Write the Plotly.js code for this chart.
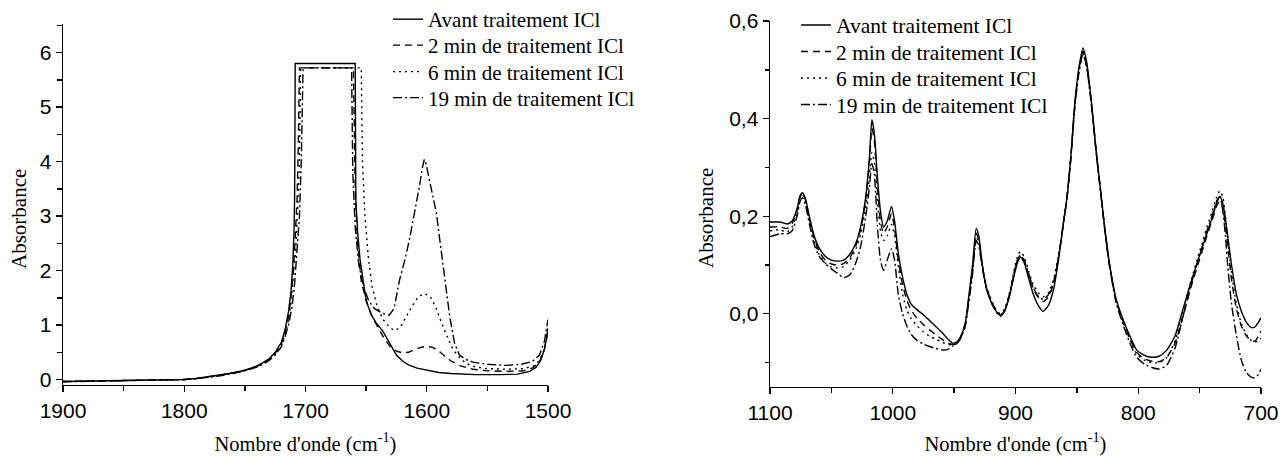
<!DOCTYPE html>
<html>
<head>
<meta charset="utf-8">
<script src="https://cdn.plot.ly/plotly-3.0.1.min.js"></script>
<style>html,body{margin:0;padding:0;background:#fff;}#chart{width:1282px;height:456px;}</style>
</head>
<body>
<div id="chart"></div>
<script>
// ---------- Data ----------
var seriesNames = ["Avant traitement ICl", "2 min de traitement ICl", "6 min de traitement ICl", "19 min de traitement ICl"];
var xTitleText = "Nombre d'onde (cm<sup>-1</sup>)";
var yTitleText = "Absorbance";

// Left panel (1900-1500 cm-1)
var leftAvantWn = [1900,1870,1850,1820,1800,1790,1780,1770,1760,1750,1740,1735,1730,1725,1720,1717,1714,1712,1710.5,1709.5,1709,1708.7,1708.5,1659,1658.8,1658.5,1657,1655,1652,1650,1646,1642,1636,1630,1625,1620,1615,1608,1600,1590,1580,1560,1540,1525,1515,1510,1506,1503,1501,1500];
var leftAvantAbs = [-0.035,-0.025,-0.015,-0.005,0.0,0.02,0.05,0.08,0.12,0.17,0.25,0.31,0.38,0.50,0.68,0.90,1.25,1.6,2.1,2.7,3.3,4.5,5.8,5.8,4.5,3.3,2.7,2.2,1.75,1.45,1.2,1.05,0.88,0.65,0.45,0.34,0.27,0.21,0.17,0.13,0.11,0.09,0.09,0.10,0.15,0.22,0.35,0.55,0.78,0.95];

var left2minWn = [1900,1870,1850,1820,1800,1790,1780,1770,1760,1750,1740,1735,1730,1725,1720,1717,1714,1712,1710,1708.5,1707,1706,1705.5,1705,1660.5,1660,1659,1657,1654,1650,1645,1640,1635,1630,1625,1620,1615,1610,1605,1600,1595,1590,1585,1580,1572,1562,1550,1535,1520,1512,1507,1503,1500];
var left2minAbs = [-0.035,-0.025,-0.015,-0.005,0.0,0.02,0.05,0.08,0.12,0.17,0.24,0.30,0.37,0.48,0.65,0.85,1.15,1.5,2.0,2.6,3.3,4.2,5.0,5.72,5.72,4.5,3.5,2.5,1.8,1.45,1.15,0.95,0.75,0.6,0.52,0.49,0.5,0.55,0.59,0.61,0.59,0.52,0.43,0.34,0.25,0.19,0.16,0.15,0.16,0.22,0.33,0.55,0.9];

var left6minWn = [1900,1870,1850,1820,1800,1790,1780,1770,1760,1750,1740,1735,1730,1725,1720,1717,1714,1712,1710,1708,1706.5,1705,1704.5,1704,1654,1653,1651,1648,1645,1641,1636,1631,1627,1622,1617,1612,1607,1602,1597,1592,1588,1584,1580,1575,1568,1560,1550,1535,1520,1512,1507,1503,1500];
var left6minAbs = [-0.035,-0.025,-0.015,-0.005,0.0,0.02,0.05,0.08,0.12,0.17,0.24,0.30,0.37,0.47,0.63,0.82,1.1,1.4,1.85,2.4,3.1,4.0,4.9,5.72,5.72,4.0,3.0,2.2,1.7,1.35,1.1,0.97,0.9,0.95,1.15,1.35,1.52,1.58,1.52,1.3,1.05,0.82,0.62,0.45,0.3,0.23,0.2,0.19,0.2,0.25,0.35,0.55,0.85];

var left19minWn = [1900,1870,1850,1820,1800,1790,1780,1770,1760,1750,1740,1735,1730,1725,1720,1717,1714,1711,1709,1707,1705,1703.5,1702.5,1702,1662,1661,1659,1656,1652,1648,1643,1637,1631,1627,1622.4,1618,1614,1610,1606,1603.5,1602,1600.5,1597,1592,1589.4,1586.7,1584,1581,1577,1573,1568,1562,1550,1535,1522,1513,1507,1503,1500];
var left19minAbs = [-0.04,-0.03,-0.02,-0.008,-0.002,0.015,0.04,0.07,0.11,0.16,0.23,0.28,0.35,0.45,0.6,0.78,1.0,1.35,1.75,2.3,3.0,4.0,5.0,5.72,5.72,3.8,2.8,2.1,1.7,1.45,1.3,1.22,1.18,1.30,1.83,2.2,2.6,3.05,3.55,3.9,4.04,3.95,3.57,3.05,2.59,2.13,1.64,1.15,0.66,0.45,0.37,0.32,0.28,0.26,0.28,0.33,0.45,0.7,1.1];

// Right panel (1100-700 cm-1)
var rightWn = [1100,1092,1086,1082,1078,1075.5,1073.5,1071,1068,1064,
  1060,1055,1050,1045,1040,1035,1030,1026,1022,1019,
  1017,1015,1012.5,1010,1007.5,1004.5,1001,998.5,995.5,992,
  988.5,985,980,975,970,965,960,955,951,948,
  945,941,938.5,935,932,930,927,924,920,916,
  912.5,909,905,901,898,896,893,889,885.5,881,
  877.5,873,869,865,861,858,855,851.5,848,845,
  842,838,834.5,831,827,823,818,812,806,801,
  795,789,783,777,770,763.5,757,750,744,740,
  736,733.5,731,729,727,724,720,716,712,708,
  705,702,700];
var rightAvantAbs = [0.188,0.188,0.184,0.190,0.215,0.242,0.248,0.235,0.200,0.160,
  0.135,0.118,0.110,0.108,0.110,0.122,0.145,0.180,0.240,0.320,
  0.398,0.370,0.280,0.210,0.178,0.190,0.220,0.190,0.125,0.075,
  0.040,0.020,0.008,-0.002,-0.014,-0.026,-0.038,-0.052,-0.060,-0.058,
  -0.048,-0.020,0.027,0.100,0.175,0.160,0.100,0.055,0.025,0.006,
  -0.003,0.005,0.035,0.080,0.108,0.116,0.105,0.070,0.040,0.015,
  0.005,0.018,0.050,0.110,0.185,0.240,0.320,0.437,0.510,0.545,
  0.515,0.431,0.340,0.260,0.170,0.096,0.030,-0.014,-0.050,-0.075,
  -0.085,-0.089,-0.087,-0.075,-0.045,0.010,0.065,0.120,0.165,0.195,
  0.228,0.241,0.225,0.195,0.157,0.100,0.040,0.005,-0.017,-0.028,
  -0.027,-0.017,-0.008];
var right2minAbs = [0.178,0.178,0.175,0.185,0.212,0.240,0.246,0.232,0.195,0.155,
  0.128,0.110,0.102,0.100,0.103,0.115,0.140,0.175,0.235,0.310,
  0.380,0.355,0.260,0.190,0.165,0.178,0.205,0.175,0.110,0.060,
  0.028,0.008,-0.010,-0.022,-0.033,-0.043,-0.052,-0.060,-0.063,-0.060,
  -0.050,-0.022,0.022,0.092,0.165,0.152,0.098,0.058,0.028,0.008,
  -0.003,0.006,0.038,0.085,0.112,0.120,0.110,0.078,0.052,0.032,
  0.025,0.035,0.062,0.115,0.185,0.240,0.318,0.432,0.505,0.538,
  0.510,0.428,0.338,0.258,0.168,0.093,0.027,-0.018,-0.055,-0.080,
  -0.092,-0.097,-0.098,-0.090,-0.060,-0.005,0.055,0.112,0.160,0.190,
  0.222,0.232,0.215,0.180,0.135,0.070,0.010,-0.025,-0.045,-0.055,
  -0.056,-0.045,-0.035];
var right6minAbs = [0.170,0.172,0.168,0.178,0.208,0.238,0.245,0.230,0.192,0.150,
  0.122,0.104,0.096,0.094,0.097,0.110,0.133,0.165,0.220,0.280,
  0.330,0.310,0.230,0.170,0.150,0.160,0.183,0.160,0.098,0.040,
  0.008,-0.010,-0.025,-0.037,-0.046,-0.052,-0.058,-0.063,-0.064,-0.061,
  -0.051,-0.024,0.020,0.088,0.158,0.148,0.098,0.060,0.030,0.010,
  0.000,0.010,0.043,0.092,0.120,0.128,0.117,0.085,0.060,0.042,
  0.035,0.044,0.070,0.120,0.188,0.242,0.318,0.430,0.500,0.532,
  0.505,0.425,0.338,0.258,0.170,0.095,0.027,-0.020,-0.058,-0.083,
  -0.095,-0.100,-0.100,-0.090,-0.055,0.005,0.068,0.128,0.178,0.208,
  0.240,0.252,0.238,0.200,0.150,0.085,0.020,-0.020,-0.042,-0.055,
  -0.058,-0.054,-0.050];
var right19minAbs = [0.158,0.164,0.164,0.170,0.200,0.230,0.238,0.222,0.185,0.142,
  0.118,0.103,0.092,0.083,0.074,0.080,0.105,0.140,0.200,0.260,
  0.308,0.285,0.180,0.110,0.089,0.110,0.133,0.110,0.040,0.000,
  -0.025,-0.042,-0.055,-0.062,-0.067,-0.071,-0.074,-0.073,-0.066,-0.062,
  -0.052,-0.026,0.015,0.080,0.150,0.140,0.093,0.055,0.025,0.005,
  -0.005,0.005,0.038,0.085,0.113,0.120,0.110,0.080,0.053,0.035,
  0.030,0.040,0.065,0.115,0.183,0.238,0.315,0.428,0.500,0.535,
  0.505,0.425,0.335,0.255,0.165,0.090,0.022,-0.025,-0.065,-0.090,
  -0.103,-0.110,-0.113,-0.106,-0.070,-0.005,0.060,0.120,0.170,0.200,
  0.232,0.240,0.210,0.160,0.095,0.020,-0.045,-0.095,-0.120,-0.130,
  -0.131,-0.124,-0.113];

var leftXTicks = [1900, 1800, 1700, 1600, 1500];
var leftYTicks = [0, 1, 2, 3, 4, 5, 6];
var rightXTicks = [1100, 1000, 900, 800, 700];
var rightYTicks = [0, 0.2, 0.4, 0.6];
var rightYTickText = ["0,0", "0,2", "0,4", "0,6"];

// ---------- Styles ----------
var dashes = ["solid", "7px,5px", "2px,4px", "9px,3px,2px,3px"];
var LW = 1.4;
var serif = "Liberation Serif, 'Times New Roman', serif";
var sans = "Liberation Sans, Arial, sans-serif";

// one legend box per entry so that rows can sit as close as in the reference
var leftLegendIds = ["legend", "legend2", "legend3", "legend4"];
var rightLegendIds = ["legend5", "legend6", "legend7", "legend8"];

function tr(x, y, i, xa, ya, leg, shape) {
  return {
    x: x, y: y, type: "scatter", mode: "lines", name: seriesNames[i],
    xaxis: xa, yaxis: ya, legend: leg,
    line: {color: "#000", width: LW, dash: dashes[i], shape: shape, smoothing: 0.6},
    hoverinfo: "x+y+name"
  };
}

var data = [
  tr(leftAvantWn, leftAvantAbs, 0, "x", "y", leftLegendIds[0], "linear"),
  tr(left2minWn, left2minAbs, 1, "x", "y", leftLegendIds[1], "linear"),
  tr(left6minWn, left6minAbs, 2, "x", "y", leftLegendIds[2], "linear"),
  tr(left19minWn, left19minAbs, 3, "x", "y", leftLegendIds[3], "linear"),
  tr(rightWn, rightAvantAbs, 0, "x2", "y2", rightLegendIds[0], "spline"),
  tr(rightWn, right2minAbs, 1, "x2", "y2", rightLegendIds[1], "spline"),
  tr(rightWn, right6minAbs, 2, "x2", "y2", rightLegendIds[2], "spline"),
  tr(rightWn, right19minAbs, 3, "x2", "y2", rightLegendIds[3], "spline")
];

function axisBase() {
  return {
    automargin: false,
    showline: true, linecolor: "#000", linewidth: 1.4,
    ticks: "outside", ticklen: 6, tickwidth: 1.4, tickcolor: "#000",
    showgrid: false, zeroline: false, mirror: false, tickangle: 0,
    tickfont: {family: sans, size: 21, color: "#000"},
    title: {font: {family: serif, size: 20.5, color: "#000"}}
  };
}

var xa = axisBase();
Object.assign(xa, {domain: [0, 0.40484], range: [1900, 1500], tickvals: leftXTicks, anchor: "y",
  minor: {dtick: 50, tick0: 1500, ticks: "outside", ticklen: 5, tickwidth: 1.4, tickcolor: "#000"}});
xa.title.text = xTitleText; xa.title.standoff = 18;

var ya = axisBase();
Object.assign(ya, {domain: [0.00546, 0.991], range: [-0.1, 6.52], tickvals: leftYTicks, anchor: "x",
  minor: {dtick: 0.5, tick0: 0, ticks: "outside", ticklen: 5, tickwidth: 1.4, tickcolor: "#000"}});

var xa2 = axisBase();
Object.assign(xa2, {domain: [0.59015, 1], range: [1100, 700], tickvals: rightXTicks, anchor: "y2",
  minor: {dtick: 50, tick0: 700, ticks: "outside", ticklen: 5, tickwidth: 1.4, tickcolor: "#000"}});
xa2.title.text = xTitleText; xa2.title.standoff = 18;

var ya2 = axisBase();
Object.assign(ya2, {domain: [0, 1], range: [-0.15, 0.6], tickvals: rightYTicks, ticktext: rightYTickText, anchor: "x2",
  minor: {dtick: 0.1, tick0: 0, ticks: "outside", ticklen: 4, tickwidth: 1.4, tickcolor: "#000"}});

// y-axis titles as rotated annotations (paper = plot area 63..1261 x 21..387 px)
var annotations = [
  {text: yTitleText, xref: "paper", yref: "paper", x: (19 - 63) / 1198, y: (387 - 219) / 366,
   textangle: -90, showarrow: false, xanchor: "center", yanchor: "middle",
   font: {family: serif, size: 21, color: "#000"}},
  {text: yTitleText, xref: "paper", yref: "paper", x: (706 - 63) / 1198, y: (387 - 218) / 366,
   textangle: -90, showarrow: false, xanchor: "center", yanchor: "middle",
   font: {family: serif, size: 21, color: "#000"}}
];

var layout = {
  width: 1282, height: 456,
  margin: {l: 63, r: 21, t: 21, b: 69, autoexpand: false},
  paper_bgcolor: "#fff", plot_bgcolor: "#fff",
  showlegend: true,
  xaxis: xa, yaxis: ya, xaxis2: xa2, yaxis2: ya2,
  annotations: annotations,
  font: {family: sans, color: "#000"}
};

// legend rows (pixel centres)
var leftRowsY = [19.5, 45.5, 72, 98];
var rightRowsY = [25, 51.5, 78, 104.5];
function legendBox(xPx, yPx, size) {
  return {
    xref: "container", yref: "container", xanchor: "left", yanchor: "middle",
    x: xPx / 1282, y: 1 - yPx / 456,
    bgcolor: "rgba(0,0,0,0)", borderwidth: 0,
    font: {family: serif, size: size, color: "#000"}
  };
}
for (var k = 0; k < 4; k++) {
  layout[leftLegendIds[k]] = legendBox(388, leftRowsY[k], 21);
  layout[rightLegendIds[k]] = legendBox(796, rightRowsY[k], 21.5);
}

Plotly.newPlot("chart", data, layout, {staticPlot: true, displayModeBar: false});
</script>
</body>
</html>
